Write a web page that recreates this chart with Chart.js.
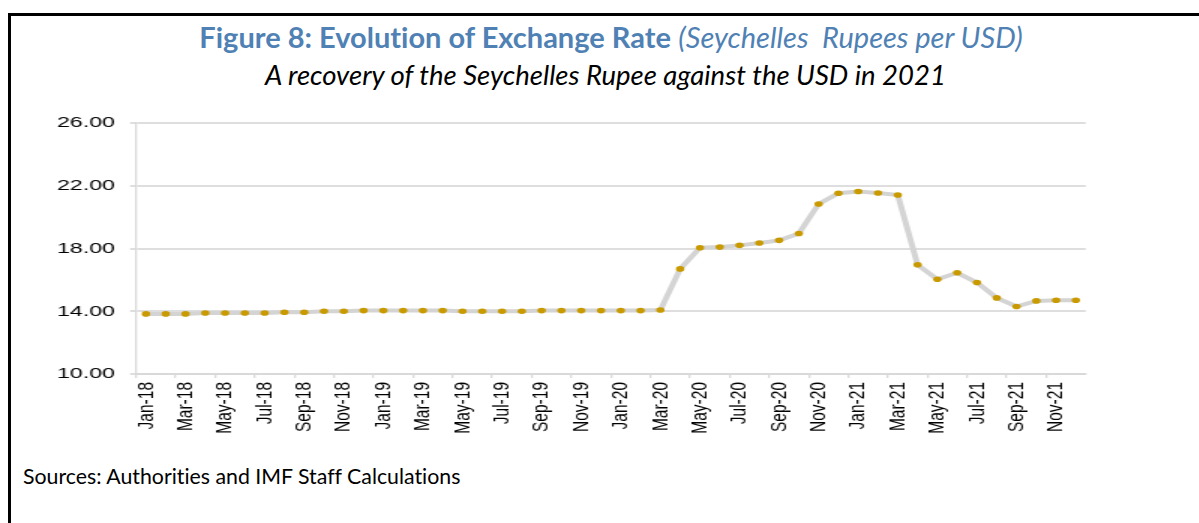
<!DOCTYPE html>
<html>
<head>
<meta charset="utf-8">
<script src="https://cdn.jsdelivr.net/npm/chart.js@4/dist/chart.umd.min.js"></script>
<style>
  html, body { margin: 0; padding: 0; background: #fff; }
  body { width: 1199px; height: 523px; position: relative; overflow: hidden; font-variant-ligatures: none; }
  .frame { position: absolute; left: 8px; top: 13px; width: 1300px; height: 600px;
           border-top: 3px solid #000; border-left: 3px solid #000; }
  .title { position: absolute; left: 0; width: 1222px; top: 19px; line-height: 36px; text-align: center;
           font-family: Lato, "Open Sans", sans-serif; font-size: 29px; color: #4f81b4; }
  .title b { font-weight: 700; }
  .title i { font-weight: 400; }
  .subtitle { position: absolute; left: 0; width: 1211px; top: 58px; line-height: 34px; text-align: center;
              font-family: Lato, "Open Sans", sans-serif; font-style: italic; font-size: 27.5px; color: #000; }
  .source { position: absolute; left: 23px; top: 463px; line-height: 26px;
            font-family: Lato, "Open Sans", sans-serif; font-size: 21.3px; color: #000; }
  .plot { position: absolute; left: 0; top: 100px; width: 740px; height: 350px;
          transform: scaleX(1.5); transform-origin: 0 0; }
</style>
</head>
<body>
<div class="frame"></div>
<div class="title"><b>Figure 8: Evolution of Exchange Rate</b> <i>(Seychelles&nbsp; Rupees per USD)</i></div>
<div class="subtitle">A recovery of the Seychelles Rupee against the USD in 2021</div>
<div class="plot"><canvas id="rateChart"></canvas></div>
<div class="source">Sources: Authorities and IMF Staff Calculations</div>
<script>
    // Mois (Jan-18 a Dec-21)
    const months = [
        'Jan-18', 'Feb-18', 'Mar-18', 'Apr-18', 'May-18', 'Jun-18', 'Jul-18', 'Aug-18', 'Sep-18', 'Oct-18', 'Nov-18', 'Dec-18',
        'Jan-19', 'Feb-19', 'Mar-19', 'Apr-19', 'May-19', 'Jun-19', 'Jul-19', 'Aug-19', 'Sep-19', 'Oct-19', 'Nov-19', 'Dec-19',
        'Jan-20', 'Feb-20', 'Mar-20', 'Apr-20', 'May-20', 'Jun-20', 'Jul-20', 'Aug-20', 'Sep-20', 'Oct-20', 'Nov-20', 'Dec-20',
        'Jan-21', 'Feb-21', 'Mar-21', 'Apr-21', 'May-21', 'Jun-21', 'Jul-21', 'Aug-21', 'Sep-21', 'Oct-21', 'Nov-21', 'Dec-21'
    ];

    // Roupies seychelloises par USD
    const scrPerUsd = [
        13.83, 13.83, 13.83, 13.89, 13.89, 13.89, 13.89, 13.94, 13.94, 14.00, 14.00, 14.04,
        14.04, 14.04, 14.04, 14.04, 14.00, 14.00, 14.00, 14.00, 14.04, 14.04, 14.04, 14.04,
        14.04, 14.04, 14.08, 16.70, 18.05, 18.09, 18.20, 18.35, 18.52, 18.96, 20.84, 21.52,
        21.63, 21.54, 21.41, 16.96, 16.04, 16.45, 15.83, 14.85, 14.30, 14.66, 14.70, 14.70
    ];

    // Graduations de l'axe vertical
    const yMin = 10;
    const yMax = 26;
    const yStep = 4;

    const tickFont = { family: '"Liberation Sans", Arial, sans-serif', size: 15.5 };

    const ctx = document.getElementById('rateChart').getContext('2d');
    new Chart(ctx, {
        type: 'line',
        data: {
            labels: months,
            datasets: [{
                label: 'SCR per USD',
                data: scrPerUsd,
                borderColor: '#d4d4d4',
                borderWidth: 4,
                tension: 0,
                pointRadius: 2.8,
                pointHoverRadius: 2.8,
                pointBackgroundColor: '#c99a00',
                pointBorderWidth: 0
            }]
        },
        options: {
            responsive: true,
            maintainAspectRatio: false,
            animation: false,
            layout: { padding: { top: 23, right: 14, left: 0, bottom: 0 } },
            plugins: {
                legend: { display: false },
                tooltip: { enabled: false }
            },
            scales: {
                x: {
                    offset: true,
                    grid: {
                        offset: true,
                        drawOnChartArea: false,
                        tickLength: 4,
                        color: c => (c.index % 2 === 0 ? '#d9d9d9' : 'rgba(0,0,0,0)'),
                        lineWidth: 1.3
                    },
                    border: { display: true, color: '#d9d9d9', width: 2 },
                    ticks: {
                        autoSkip: false,
                        maxRotation: 90,
                        minRotation: 90,
                        padding: 4,
                        color: '#000',
                        font: tickFont,
                        callback: function(value, index) {
                            return index % 2 === 0 ? this.getLabelForValue(value) : '';
                        }
                    },
                    afterFit: s => { s.height = 76; }
                },
                y: {
                    min: yMin,
                    max: yMax,
                    grid: { color: '#dedede', lineWidth: 2, tickLength: 4 },
                    border: { display: true, color: '#d9d9d9', width: 1.3 },
                    ticks: {
                        stepSize: yStep,
                        padding: 10,
                        color: '#000',
                        font: tickFont,
                        callback: v => v.toFixed(2)
                    },
                    afterFit: s => { s.width = 90.7; }
                }
            }
        }
    });
</script>
</body>
</html>
